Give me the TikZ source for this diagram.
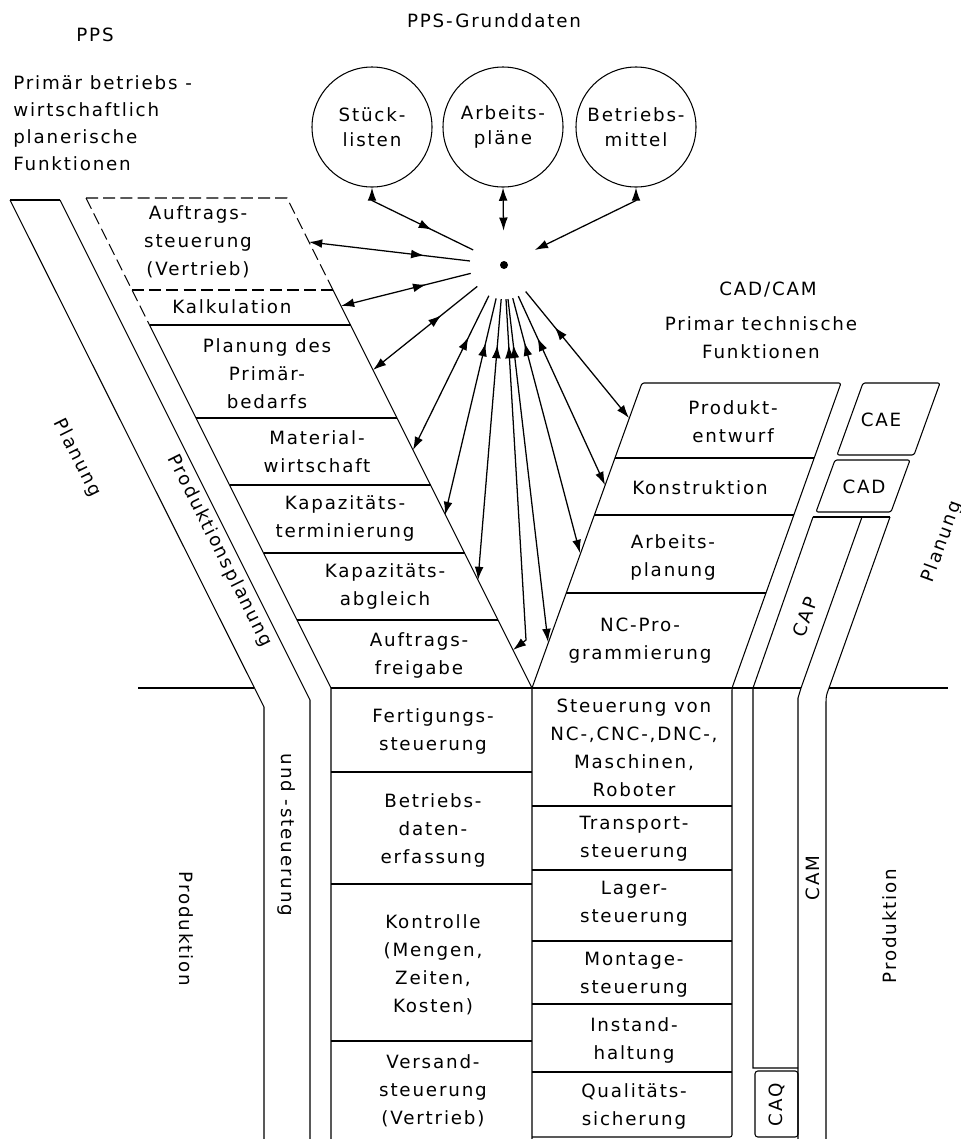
\documentclass[tikz,border=0pt]{standalone}
\usepackage{fontspec}
\setmainfont{DejaVu Sans}[LetterSpace=10]
\usetikzlibrary{arrows.meta, positioning, calc, decorations.markings}

\tikzset{
  boxline/.style={line width=0.75pt},
  dashline/.style={line width=0.75pt, dash pattern=on 3mm off 1.3mm},
  divider/.style={line width=1.2pt},
  lbl/.style={align=center, inner sep=0pt, font=\fontsize{13pt}{19.9pt}\selectfont},
  grund/.style={circle, draw, line width=0.75pt, minimum size=30mm, inner sep=0pt,
    align=center, font=\fontsize{13pt}{17.7pt}\selectfont},
  fanline/.style={line width=0.9pt, -{Latex[length=3.3mm,width=2.2mm]}, postaction={decorate},
    decoration={markings, mark=at position 11.5mm with {\arrowreversed{Latex[length=3.3mm,width=2.2mm]}}}},
  dualline/.style={line width=0.9pt, {Latex[length=3.3mm,width=2.2mm]}-{Latex[length=3.3mm,width=2.2mm]}},
}

\begin{document}
\begin{tikzpicture}[x=0.25mm, y=-0.25mm]
  \useasboundingbox (0,0) rectangle (961,1139);
  \clip (0,0) rectangle (961,1139);

  % Ueberschriften
  \node[lbl] (ppsT) at (95,35) {PPS};
  \node[lbl, align=left, anchor=west, font=\fontsize{13pt}{19.2pt}\selectfont] (ppsF) at (13,123)
    {Primär betriebs -\\wirtschaftlich\\planerische\\Funktionen};
  \node[lbl] (gdT) at (494,21) {PPS-Grunddaten};
  \node[lbl] (camT) at (768,290) {CAD/CAM};
  \node[lbl] (camF) at (761,338) {Primar technische\\Funktionen};

  % Grunddaten
  \node[grund] (stk) at (372,127) {Stück-\\listen};
  \node[grund] (apl) at (503,127) {Arbeits-\\pläne};
  \node[grund] (bmi) at (636,127) {Betriebs-\\mittel};

  % linkes Band
  \draw[boxline] (10,200) -- (60,200);
  \draw[boxline] (10,200) -- (264,707) -- (264,1139);
  \draw[boxline] (60,200) -- (310,700) -- (310,1139);

  % PPS-Trapez
  \draw[dashline] (86,198) -- (287,198) -- (333,290);
  \draw[dashline] (86,198) -- (149.5,325);
  \draw[dashline] (132,290) -- (333,290);
  \draw[boxline] (149.5,325) -- (331,688) -- (331,1139);
  \draw[boxline] (333,290) -- (532,688) -- (532,1139);
  \foreach \y in {325,418,485,553,620}
    \draw[boxline] ({86+0.5*(\y-198)},\y) -- ({287+0.5*(\y-198)},\y);

  % CAD/CAM-Trapez
  \draw[boxline, rounded corners=1.5] (532,688) -- (642,383) -- (841,383) -- (732,688) -- (732,1137) -- (532,1137);
  \foreach \y in {458,515,593}
    \draw[boxline] ({532+0.36*(688-\y)},\y) -- ({732+0.357*(688-\y)},\y);

  % CAE, CAD, CAP, CAM, CAQ
  \draw[boxline, rounded corners=1.5] (863,383) -- (940,383) -- (914,455) -- (837,455) -- cycle;
  \draw[boxline, rounded corners=1.5] (835,460) -- (910,460) -- (891,512) -- (816,512) -- cycle;
  \draw[boxline] (813,517) -- (890,517);
  \draw[boxline] (813,517) -- (753,688) -- (753,1068) -- (798,1068);
  \draw[boxline] (862,517) -- (801,688) -- (798,698) -- (798,1139);
  \draw[boxline] (890,517) -- (829,688) .. controls (826,696) .. (826,705) -- (826,1139);
  \draw[boxline, rounded corners=2] (755,1071) rectangle (798,1137);

  % Trennlinie Planung / Produktion
  \draw[divider] (138,688) -- (254,688);
  \draw[divider] (331,688) -- (801,688);
  \draw[divider] (829,688) -- (948,688);

  % untere Spalten
  \foreach \y in {772,884,1041}
    \draw[boxline] (331,\y) -- (532,\y);
  \foreach \y in {806,870,941,1004,1072}
    \draw[boxline] (532,\y) -- (732,\y);

  % PPS-Funktionen
  \node[lbl] (aufS) at (198,242) {Auftrags-\\steuerung\\(Vertrieb)};
  \node[lbl] (kalk) at (232,307) {Kalkulation};
  \node[lbl] (prim) at (267,374) {Planung des\\Primär-\\bedarfs};
  \node[lbl] (matw) at (317,452) {Material-\\wirtschaft};
  \node[lbl] (kapT) at (345,518) {Kapazitäts-\\terminierung};
  \node[lbl] (kapA) at (385,586) {Kapazitäts-\\abgleich};
  \node[lbl] (aufF) at (419,655) {Auftrags-\\freigabe};
  \node[lbl] (fert) at (433,731) {Fertigungs-\\steuerung};
  \node[lbl] (bde) at (433,830) {Betriebs-\\daten-\\erfassung};
  \node[lbl] (kont) at (433,965) {Kontrolle\\(Mengen,\\Zeiten,\\Kosten)};
  \node[lbl] (vers) at (433,1091) {Versand-\\steuerung\\(Vertrieb)};

  % CAD/CAM-Funktionen
  \node[lbl] (pent) at (733,422) {Produkt-\\entwurf};
  \node[lbl] (kons) at (700,488) {Konstruktion};
  \node[lbl] (apln) at (673,557) {Arbeits-\\planung};
  \node[lbl] (ncpr) at (640,641) {NC-Pro-\\grammierung};
  \node[lbl] (stnc) at (634,748) {Steuerung von\\NC-,CNC-,DNC-,\\Maschinen,\\Roboter};
  \node[lbl] (trsp) at (634,839) {Transport-\\steuerung};
  \node[lbl] (lagr) at (634,904) {Lager-\\steuerung};
  \node[lbl] (mont) at (634,975) {Montage-\\steuerung};
  \node[lbl] (inst) at (634,1040) {Instand-\\haltung};
  \node[lbl] (qual) at (634,1106) {Qualitäts-\\sicherung};
  \node[lbl] (cae) at (881,420) {CAE};
  \node[lbl] (cad) at (864,487) {CAD};
  \node[lbl, rotate=70] (cap) at (805,617) {CAP};
  \node[lbl, rotate=90] (cam) at (813,878) {CAM};
  \node[lbl, rotate=90] (caq) at (777,1105) {CAQ};

  % Bandbeschriftungen
  \node[lbl, rotate=-63.4] (planL) at (77,458) {Planung};
  \node[lbl, rotate=-63.4] (ppl) at (220,551) {Produktionsplanung};
  \node[lbl, rotate=-90] (ust) at (287,835) {und -steuerung};
  \node[lbl, rotate=-90] (prodL) at (186,929) {Produktion};
  \node[lbl, rotate=90] (prodR) at (890,926) {Produktion};
  \node[lbl, rotate=70] (planR) at (942,542) {Planung};

  % Datenbasis
  \node[circle, fill, inner sep=0pt, minimum size=2mm] (hub) at (504,265) {};
  \node[circle, inner sep=0pt, minimum size=17mm] (ring) at (504,265) {};

  \coordinate (kStk) at ($(stk.south)+(0,13)$);
  \coordinate (kBmi) at ($(bmi.south)+(0,13)$);
  \coordinate (tAS) at (309,242);
  \coordinate (tKal) at (341,306);
  \coordinate (tPla) at (373,370);
  \coordinate (tMat) at (413,450);
  \coordinate (tKT) at (445,515);
  \coordinate (tKA) at (478,580);
  \coordinate (kAF) at (526,640);
  \coordinate (tAF) at (513,650);
  \coordinate (tNC) at (548,642);
  \coordinate (tAP) at (580,553);
  \coordinate (tKo) at (605,485);
  \coordinate (tPE) at (629,418);

  \draw[fanline] (ring) -- (kStk) -- (stk.south);
  \draw[dualline] (ring) -- (apl.south);
  \draw[dualline] (ring) -- (kBmi) -- (bmi.south);
  \foreach \t in {tAS,tKal,tPla,tMat,tKT,tKA,tNC,tAP,tKo,tPE}
    \draw[fanline] (ring) -- (\t);
  \draw[fanline] (ring) -- (kAF) -- (tAF);
\end{tikzpicture}
\end{document}
